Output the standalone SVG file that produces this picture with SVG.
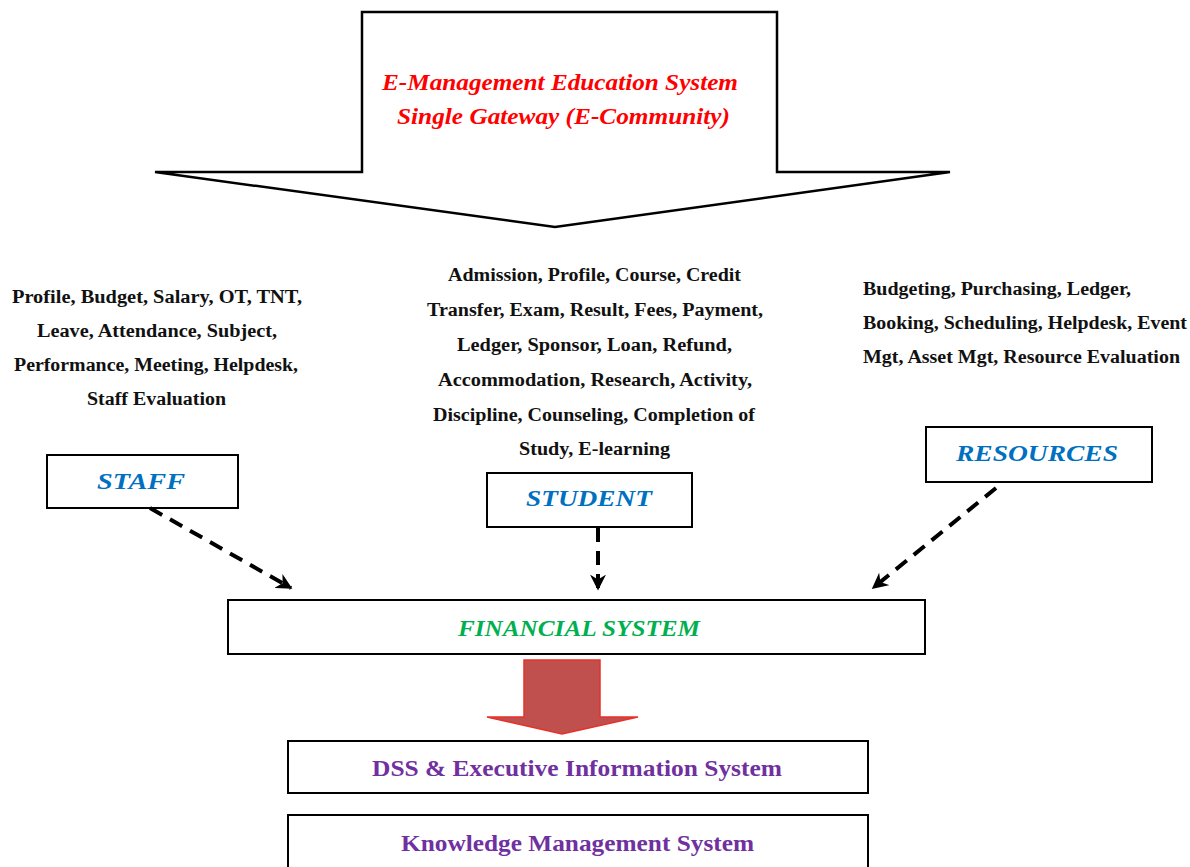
<svg xmlns="http://www.w3.org/2000/svg" width="1190" height="867" viewBox="0 0 1190 867">
<defs>
<style>
.box{fill:#fff;stroke:#000;stroke-width:2}
.body{font-family:"Liberation Serif","Times New Roman",serif;font-weight:bold;font-size:18px;fill:#111}
.lbl{font-family:"Liberation Serif","Times New Roman",serif;font-weight:bold;font-style:italic;font-size:24px;fill:#0070C0}
.title{font-family:"Liberation Serif","Times New Roman",serif;font-weight:bold;font-style:italic;font-size:23px;fill:#FF0000}
.dash{stroke:#000;stroke-width:4;stroke-dasharray:14 9;fill:none}
.purple{font-family:"Liberation Serif","Times New Roman",serif;font-weight:bold;font-size:23px;fill:#7030A0}
.green{font-family:"Liberation Serif","Times New Roman",serif;font-weight:bold;font-style:italic;font-size:24px;fill:#00B050}
</style>
<marker id="ah" viewBox="0 0 10 10" refX="9" refY="5" markerWidth="4" markerHeight="4" orient="auto" markerUnits="strokeWidth">
<path d="M0,0 L10,5 L0,10 L3,5 Z" fill="#000"/>
</marker>
</defs>
<rect width="1190" height="867" fill="#fff"/>
<g id="gateway">
<path d="M362,12 H777 V172 H950 L555,227 L155,172 H362 Z" fill="#fff" stroke="#000" stroke-width="2.5"/>
<text class="title" x="382" y="90" textLength="356" lengthAdjust="spacingAndGlyphs">E-Management Education System</text>
<text class="title" x="397" y="124" textLength="333" lengthAdjust="spacingAndGlyphs">Single Gateway (E-Community)</text>
</g>
<g id="staff-desc" class="body">
<text x="12" y="303" textLength="290" lengthAdjust="spacingAndGlyphs">Profile, Budget, Salary, OT, TNT,</text>
<text x="37" y="337" textLength="240" lengthAdjust="spacingAndGlyphs">Leave, Attendance, Subject,</text>
<text x="14" y="371" textLength="284" lengthAdjust="spacingAndGlyphs">Performance, Meeting, Helpdesk,</text>
<text x="87" y="405" textLength="139" lengthAdjust="spacingAndGlyphs">Staff Evaluation</text>
</g>
<g id="student-desc" class="body">
<text x="448" y="281" textLength="293" lengthAdjust="spacingAndGlyphs">Admission, Profile, Course, Credit</text>
<text x="427" y="316" textLength="336" lengthAdjust="spacingAndGlyphs">Transfer, Exam, Result, Fees, Payment,</text>
<text x="457" y="351" textLength="275" lengthAdjust="spacingAndGlyphs">Ledger, Sponsor, Loan, Refund,</text>
<text x="438" y="386" textLength="314" lengthAdjust="spacingAndGlyphs">Accommodation, Research, Activity,</text>
<text x="433" y="421" textLength="322" lengthAdjust="spacingAndGlyphs">Discipline, Counseling, Completion of</text>
<text x="519" y="455" textLength="151" lengthAdjust="spacingAndGlyphs">Study, E-learning</text>
</g>
<g id="resources-desc" class="body">
<text x="863" y="295" textLength="268" lengthAdjust="spacingAndGlyphs">Budgeting, Purchasing, Ledger,</text>
<text x="863" y="329" textLength="324" lengthAdjust="spacingAndGlyphs">Booking, Scheduling, Helpdesk, Event</text>
<text x="863" y="363" textLength="317" lengthAdjust="spacingAndGlyphs">Mgt, Asset Mgt, Resource Evaluation</text>
</g>
<g id="staff">
<rect class="box" x="47" y="455" width="191" height="53"/>
<text class="lbl" x="97" y="489" textLength="88" lengthAdjust="spacingAndGlyphs">STAFF</text>
</g>
<g id="student">
<rect class="box" x="487" y="473" width="205" height="54"/>
<text class="lbl" x="526" y="506" textLength="126" lengthAdjust="spacingAndGlyphs">STUDENT</text>
</g>
<g id="resources">
<rect class="box" x="926" y="427" width="226" height="55"/>
<text class="lbl" x="956" y="461" textLength="162" lengthAdjust="spacingAndGlyphs">RESOURCES</text>
</g>
<g id="connectors">
<line class="dash" x1="150" y1="508" x2="291" y2="588" marker-end="url(#ah)"/>
<line class="dash" x1="598" y1="528" x2="598" y2="589" marker-end="url(#ah)"/>
<line class="dash" x1="996" y1="488" x2="873" y2="588" marker-end="url(#ah)"/>
<path d="M524,660 H600 V717 H638 L562,734 L487,717 H524 Z" fill="#C0504D" stroke="#E8302A" stroke-width="1.5"/>
</g>
<g id="financial">
<rect class="box" x="228" y="600" width="697" height="54"/>
<text class="green" x="458" y="636" textLength="242" lengthAdjust="spacingAndGlyphs">FINANCIAL SYSTEM</text>
</g>
<g id="dss">
<rect class="box" x="288" y="741" width="580" height="52"/>
<text class="purple" x="372" y="776" textLength="410" lengthAdjust="spacingAndGlyphs">DSS &amp; Executive Information System</text>
</g>
<g id="kms">
<rect class="box" x="288" y="815" width="580" height="60"/>
<text class="purple" x="401" y="851" textLength="353" lengthAdjust="spacingAndGlyphs">Knowledge Management System</text>
</g>
</svg>
